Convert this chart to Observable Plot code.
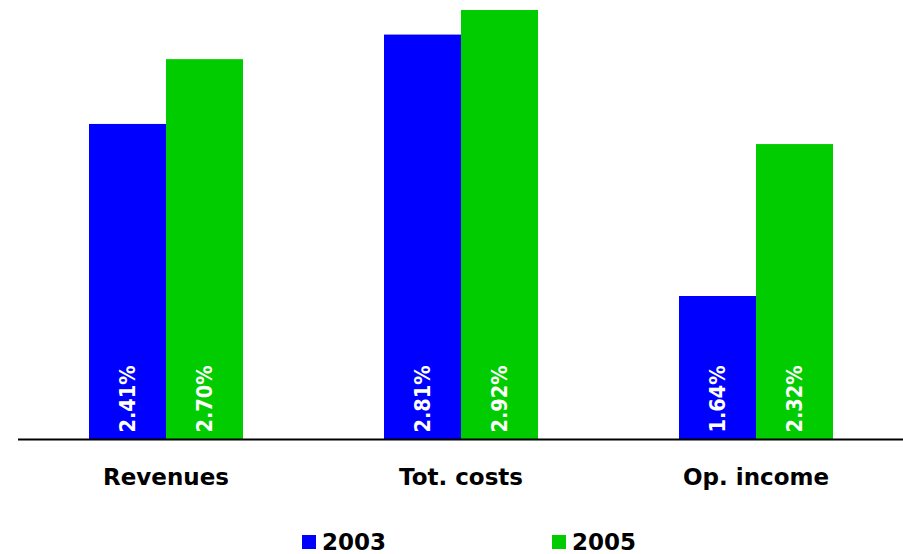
<!DOCTYPE html>
<html>
<head>
<meta charset="utf-8">
<script src="https://cdn.jsdelivr.net/npm/d3@7"></script>
<script src="https://cdn.jsdelivr.net/npm/@observablehq/plot@0.6"></script>
<style>
  html, body { margin: 0; padding: 0; background: #fff; }
  body { width: 903px; height: 554px; overflow: hidden; font-family: "DejaVu Sans", sans-serif; }
  #legend { position: relative; width: 903px; height: 54px; }
  .item { position: absolute; top: 0; display: flex; align-items: center; font-weight: bold; font-size: 23px; color: #000; }
  .sw { width: 14px; height: 14px; margin-right: 6px; }
</style>
</head>
<body>
<div id="chart"></div>
<div id="legend"></div>
<script>
const categories = ["Revenues", "Tot. costs", "Op. income"];
const years = ["2003", "2005"];
const values2003 = [2.41, 2.81, 1.64];
const values2005 = [2.70, 2.92, 2.32];
const colors = ["#0000ff", "#00cc00"];

const data = [];
categories.forEach((c, i) => {
  data.push({category: c, year: years[0], value: values2003[i]});
  data.push({category: c, year: years[1], value: values2005[i]});
});
const fmt = v => d3.format(".2f")(v) + "%";

const chart = Plot.plot({
  width: 903,
  height: 500,
  marginLeft: 18,
  marginRight: 0,
  marginTop: 10,
  marginBottom: 61,
  style: {fontFamily: "DejaVu Sans, sans-serif", background: "#fff"},
  fx: {domain: categories, padding: 0, label: null, tickSize: 0, tickPadding: 29},
  x: {domain: years, paddingInner: 0, paddingOuter: 0.903, axis: null},
  y: {domain: [1, 2.92], axis: null},
  color: {domain: years, range: colors},
  marks: [
    Plot.barY(data, {fx: "category", x: "year", y1: 1, y2: "value", fill: "year", inset: 0}),
    Plot.text(data, {fx: "category", x: "year", y: 1, text: d => fmt(d.value), rotate: -90,
      textAnchor: "start", lineAnchor: "middle", dy: -7, fill: "white", fontWeight: "bold", fontSize: 21.5,
      fontFamily: "DejaVu Sans Condensed, DejaVu Sans, sans-serif"}),
    Plot.ruleY([1], {stroke: "#000", strokeWidth: 2})
  ]
});
chart.querySelectorAll('g[aria-label="fx-axis tick label"]').forEach(el => {
  el.setAttribute("font-weight", "bold");
  el.setAttribute("font-size", "23");
});
document.getElementById("chart").appendChild(chart);

const legend = document.getElementById("legend");
const lefts = [302, 552];
years.forEach((y, i) => {
  const item = document.createElement("div");
  item.className = "item";
  item.style.left = lefts[i] + "px";
  item.style.top = "29px";
  item.innerHTML = `<div class="sw" style="background:${colors[i]}"></div><span>${y}</span>`;
  legend.appendChild(item);
});
</script>
</body>
</html>
